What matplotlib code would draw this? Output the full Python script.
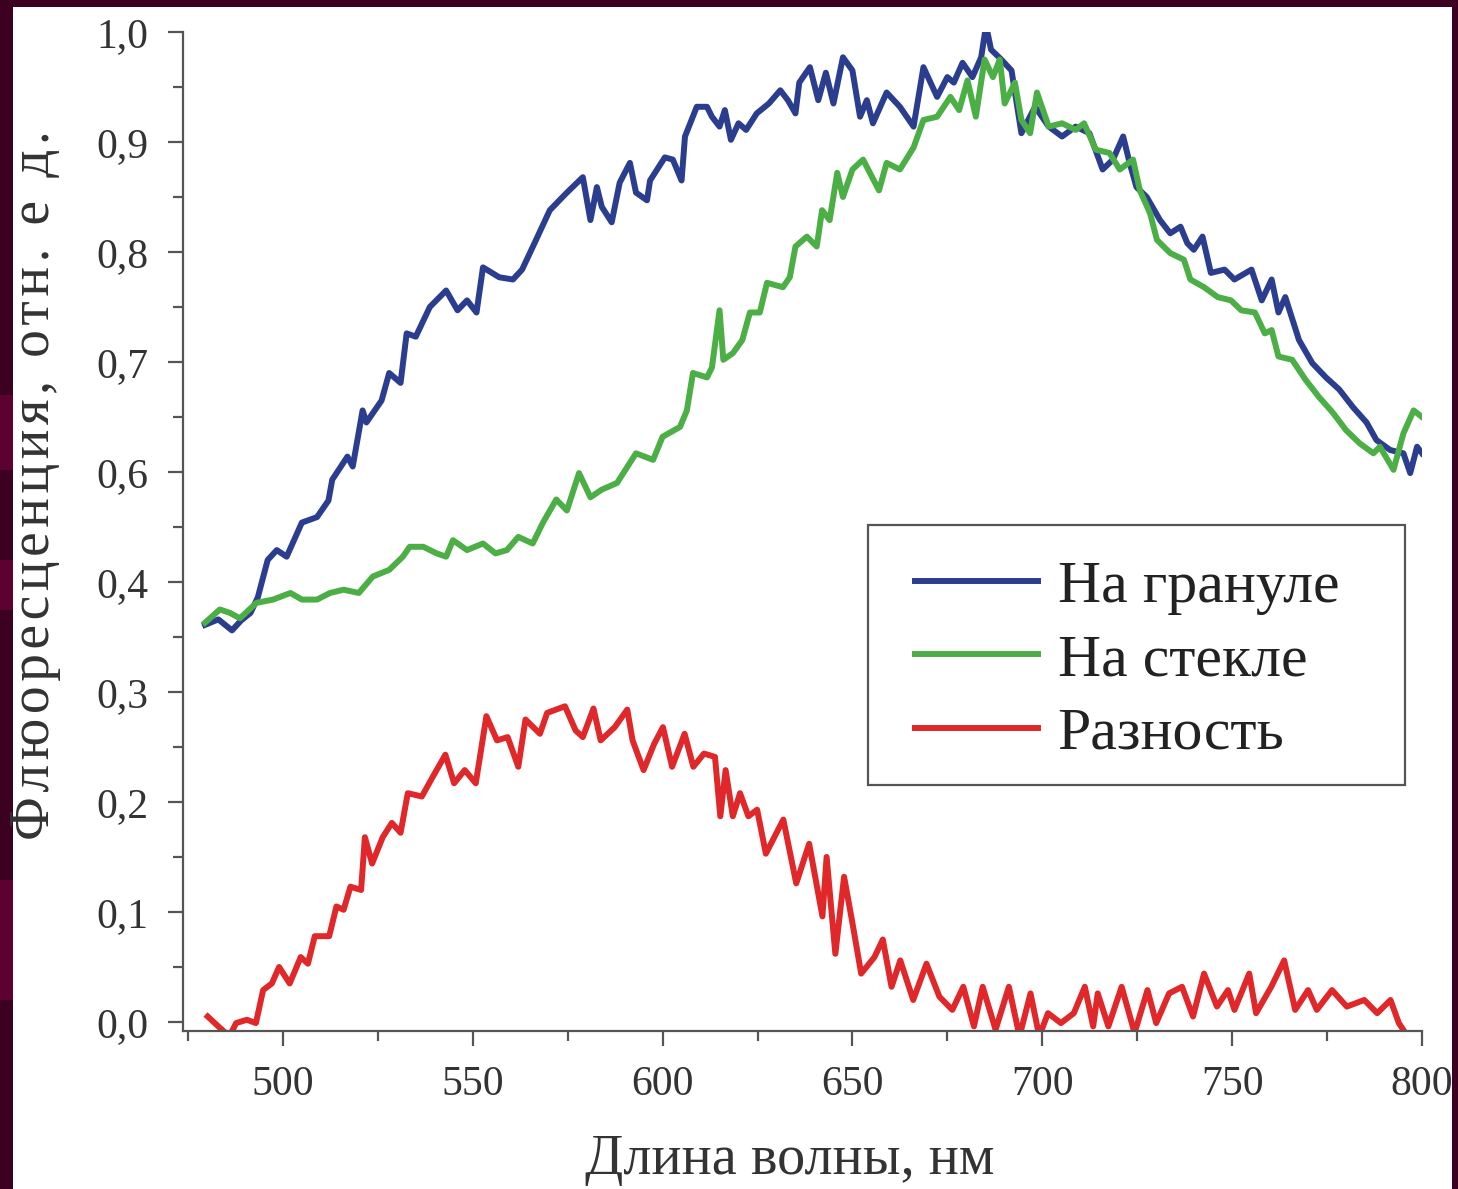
import matplotlib
matplotlib.use("Agg")
import matplotlib.pyplot as plt
from matplotlib.patches import Rectangle
from matplotlib.ticker import MultipleLocator

# wavelength (nm) and fluorescence
wl_granule = [479.5, 483, 486.6, 489, 491.5, 493.4, 496, 498.4, 501, 505, 509, 512, 513, 517,
              518.4, 521, 522, 526, 528, 531, 532.6, 535, 538.7, 543, 546, 548.5, 551, 552.7,
              557, 560.6, 563, 566, 570.3, 574.8, 579, 581, 582.7, 584, 586.6, 588.7, 591.4,
              593, 595.9, 596.7, 600.6, 602.7, 605, 605.9, 609, 611.7, 613, 615, 616.4, 618,
              620, 622, 624.8, 628, 631, 633, 635, 636, 638.8, 641, 643, 645, 647.5, 650, 652,
              653.8, 655.4, 659, 662.5, 666.1, 668.7, 672.3, 675.0, 676.7, 679.0, 681.6, 683.9,
              685.2, 686.5, 689.2, 691.9, 694.5, 698.1, 701.7, 705.2, 708.8, 712.4, 715.9,
              718.6, 721.3, 723.0, 724.8, 727.5, 731.0, 733.7, 736.4, 738.2, 739.9, 742.2,
              744.4, 748.0, 750.6, 755.1, 757.8, 760.4, 762.2, 764.0, 767.6, 771.1, 774.7,
              778.2, 781.8, 785.4, 788.0, 791.6, 795.1, 796.9, 798.7, 800.0]
fl_granule = [0.361, 0.366, 0.356, 0.365, 0.372, 0.386, 0.420, 0.429, 0.423, 0.454, 0.459, 0.474,
              0.493, 0.514, 0.505, 0.556, 0.545, 0.565, 0.590, 0.581, 0.626, 0.623, 0.650, 0.665,
              0.647, 0.656, 0.645, 0.686, 0.677, 0.675, 0.684, 0.706, 0.738, 0.754, 0.768, 0.729,
              0.759, 0.741, 0.727, 0.763, 0.781, 0.754, 0.747, 0.765, 0.786, 0.784, 0.765, 0.805,
              0.832, 0.832, 0.823, 0.814, 0.829, 0.802, 0.817, 0.811, 0.826, 0.835, 0.847, 0.838,
              0.826, 0.854, 0.868, 0.838, 0.863, 0.835, 0.877, 0.865, 0.823, 0.838, 0.817, 0.845,
              0.832, 0.814, 0.868, 0.841, 0.859, 0.854, 0.872, 0.859, 0.877, 0.906, 0.884, 0.875,
              0.865, 0.808, 0.832, 0.814, 0.805, 0.814, 0.808, 0.775, 0.784, 0.805, 0.781, 0.759,
              0.750, 0.729, 0.717, 0.723, 0.708, 0.702, 0.714, 0.681, 0.684, 0.675, 0.684, 0.656,
              0.675, 0.645, 0.659, 0.620, 0.599, 0.586, 0.575, 0.559, 0.545, 0.529, 0.520, 0.517,
              0.499, 0.523, 0.517]

wl_glass = [479.5, 483.4, 486, 488.7, 493, 497.4, 502, 505, 509, 512.4, 516, 520, 523.7, 528,
            531.6, 533.4, 537, 540.5, 543, 544.8, 548.5, 552.7, 556, 559, 562, 565.8, 568.5,
            572, 574.8, 578, 581, 584, 588, 593, 597.5, 600, 604.6, 606.4, 608, 611.7, 613, 615,
            616, 618.5, 621, 623, 625.6, 627.5, 631.7, 633.5, 635, 638, 640.6, 642, 644, 646,
            647.5, 650, 652.8, 657, 659, 662.5, 666.1, 668.7, 672.3, 675.8, 678.1, 680.3, 682.5,
            684.8, 687.0, 688.8, 690.1, 692.8, 694.5, 696.8, 698.6, 701.7, 705.2, 708.8, 711.0,
            714.1, 717.7, 720.4, 723.9, 725.7, 728.4, 730.2, 733.7, 737.3, 739.0, 742.6, 746.2,
            749.7, 752.4, 756.0, 758.6, 760.4, 762.2, 765.8, 769.3, 772.9, 776.5, 780.0, 783.6,
            787.2, 788.9, 792.5, 795.1, 797.8, 800.0]
fl_glass = [0.363, 0.375, 0.372, 0.367, 0.381, 0.384, 0.390, 0.384, 0.384, 0.390, 0.393, 0.390,
            0.405, 0.411, 0.423, 0.432, 0.432, 0.426, 0.423, 0.438, 0.429, 0.435, 0.426, 0.429,
            0.441, 0.435, 0.454, 0.475, 0.465, 0.499, 0.477, 0.484, 0.490, 0.517, 0.511, 0.532,
            0.541, 0.556, 0.590, 0.586, 0.595, 0.647, 0.602, 0.608, 0.620, 0.645, 0.645, 0.672,
            0.668, 0.677, 0.705, 0.714, 0.705, 0.738, 0.729, 0.772, 0.750, 0.775, 0.784, 0.756,
            0.781, 0.775, 0.795, 0.820, 0.823, 0.841, 0.829, 0.856, 0.823, 0.875, 0.859, 0.875,
            0.835, 0.854, 0.820, 0.808, 0.845, 0.814, 0.817, 0.811, 0.817, 0.793, 0.790, 0.775,
            0.784, 0.756, 0.735, 0.711, 0.699, 0.693, 0.675, 0.668, 0.659, 0.656, 0.647, 0.645,
            0.626, 0.629, 0.605, 0.602, 0.584, 0.568, 0.554, 0.538, 0.526, 0.517, 0.523, 0.502,
            0.535, 0.556, 0.550]

wl_diff = [480.2, 483, 485.9, 487.7, 490.5, 492.9, 494.8, 497.1, 499, 501.8, 504.7, 506.6, 508.4,
           512.2, 514.1, 516, 517.8, 520.6, 521.6, 523.5, 526.3, 528.7, 531, 532.9, 536.6, 539.5,
           542.8, 545.1, 547.9, 550.8, 553.6, 556.4, 559.2, 562, 563.9, 567.7, 569.6, 574.3,
           577.1, 579, 581.8, 583.7, 587.4, 590.7, 592.1, 595, 597.8, 600.1, 602.5, 605.8, 608.1,
           610.9, 613.8, 615.2, 616.6, 618.5, 620.4, 622.6, 624.9, 627.2, 631.8, 635.2, 638.6,
           642.1, 643.2, 645.5, 647.8, 650, 652.3, 655.8, 658, 660.3, 662.6, 666, 669.5, 672.9,
           676.3, 679.2, 682, 684.3, 687.7, 691.2, 694, 696.9, 699.2, 701.5, 704.9, 708.3, 711.2,
           713.4, 714.6, 717.4, 720.9, 724.3, 727.7, 730, 733.4, 736.8, 739.7, 742.6, 746, 748.9,
           750.6, 754.5, 756.3, 760.3, 763.7, 766.6, 770, 772.3, 776.3, 780.2, 784.8, 788.2,
           791.7, 793.9, 796.2]
fl_diff = [0.005, -0.004, -0.013, -0.001, 0.002, -0.001, 0.029, 0.035, 0.050, 0.035, 0.059, 0.053,
           0.078, 0.078, 0.105, 0.102, 0.123, 0.120, 0.168, 0.144, 0.168, 0.181, 0.172, 0.208,
           0.205, 0.223, 0.243, 0.217, 0.229, 0.217, 0.278, 0.256, 0.259, 0.232, 0.275, 0.262,
           0.281, 0.287, 0.265, 0.259, 0.285, 0.256, 0.268, 0.284, 0.256, 0.229, 0.253, 0.268,
           0.232, 0.262, 0.232, 0.244, 0.241, 0.187, 0.229, 0.187, 0.208, 0.187, 0.193, 0.153,
           0.184, 0.126, 0.162, 0.096, 0.150, 0.062, 0.132, 0.090, 0.044, 0.059, 0.075, 0.032,
           0.056, 0.020, 0.053, 0.023, 0.011, 0.032, -0.004, 0.032, -0.007, 0.032, -0.013, 0.026,
           -0.013, 0.008, -0.001, 0.008, 0.032, -0.004, 0.026, -0.004, 0.032, -0.010, 0.029,
           -0.001, 0.026, 0.032, 0.005, 0.044, 0.014, 0.029, 0.011, 0.044, 0.008, 0.032, 0.056,
           0.011, 0.029, 0.011, 0.029, 0.014, 0.020, 0.008, 0.020, -0.001, -0.013]

labels = ["На грануле", "На стекле", "Разность"]
colors = ["#2b3d8f", "#4caf45", "#e0282a"]

# tick labels exactly as printed on the original figure (0,5 is missing there)
ytick_pos = [0.0, 0.1, 0.2, 0.3, 0.4, 0.5, 0.6, 0.7, 0.8, 0.9]
ytick_labels = ["0,0", "0,1", "0,2", "0,3", "0,4", "0,6", "0,7", "0,8", "0,9", "1,0"]
xtick_pos = [500, 550, 600, 650, 700, 750, 800]

plt.rcParams['font.family'] = ['Liberation Serif', 'DejaVu Serif']

W, H = 1458, 1189
fig = plt.figure(figsize=(W/100, H/100), dpi=100, facecolor="#3c0020")
# white slide area behind the chart
fig.patches.append(Rectangle((13/W, 0), (1452-13)/W, 1 - 7/H, transform=fig.transFigure,
                             facecolor="white", edgecolor="none", zorder=-5))
# lighter bits of the slide background showing at the left edge
for y0, y1 in [(395, 470), (560, 610), (880, 1000)]:
    fig.patches.append(Rectangle((0, 1 - y1/H), 13/W, (y1-y0)/H, transform=fig.transFigure,
                                 facecolor="#5c0131", edgecolor="none", zorder=-6))

ax = fig.add_axes([183/W, (H-1031)/H, (1422-183)/W, (1031-32)/H])
ax.set_facecolor("none")

ax.plot(wl_granule, fl_granule, color=colors[0], lw=4.3, label=labels[0])
ax.plot(wl_glass, fl_glass, color=colors[1], lw=4.3, label=labels[1])
ax.plot(wl_diff, fl_diff, color=colors[2], lw=4.3, label=labels[2])

ax.set_xlim(473.7, 800)
ax.set_ylim(-0.0082, 0.9)
ax.set_xticks(xtick_pos)
ax.set_xticklabels([str(v) for v in xtick_pos])
ax.set_yticks(ytick_pos)
ax.set_yticklabels(ytick_labels)
ax.xaxis.set_minor_locator(MultipleLocator(25))
ax.yaxis.set_minor_locator(MultipleLocator(0.05))

for s in ["top", "right"]:
    ax.spines[s].set_visible(False)
for s in ["left", "bottom"]:
    ax.spines[s].set_color("#555555")
    ax.spines[s].set_linewidth(1.6)

ax.tick_params(which="major", direction="out", length=11, width=1.6, color="#555555",
               labelsize=30, labelcolor="#333333", pad=14)
ax.tick_params(which="minor", direction="out", length=7, width=1.6, color="#555555")

fig.text(790/W, 1 - 1160/H, "Длина волны, нм", ha="center", va="center",
         fontsize=40.5, color="#333333")
# the y title is letter-spaced in the original
ylab = "\u200a".join("Флюоресценция, отн. е д.")
fig.text(35/W, 1 - 485/H, ylab, ha="center", va="center",
         rotation=90, fontsize=40, color="#333333")

# legend frame drawn separately (wide right margin in the original)
ax.add_patch(Rectangle((868/W, 1 - 785/H), (1405-868)/W, (785-525)/H,
                       transform=fig.transFigure, facecolor="white", edgecolor="#555555",
                       linewidth=1.6, clip_on=False, zorder=4))
leg = ax.legend(loc="upper left", bbox_to_anchor=(915/W, 1 - 560/H),
                bbox_transform=fig.transFigure, borderaxespad=0, fontsize=43,
                handlelength=2.06, handletextpad=0.33, labelspacing=0.31,
                borderpad=0, frameon=False)
leg.set_zorder(5)
for t in leg.get_texts():
    t.set_color("#222222")

fig.savefig("out.png", dpi=100, facecolor=fig.get_facecolor())
